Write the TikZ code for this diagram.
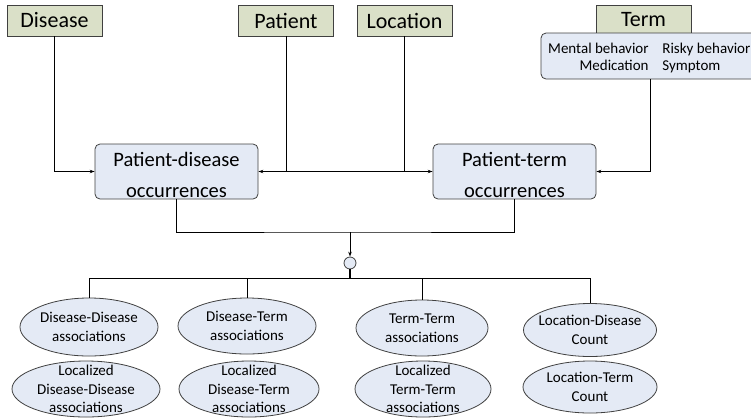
\documentclass[tikz,border=0pt]{standalone}
\usepackage{fontspec}
\setmainfont{Carlito}
\usetikzlibrary{shapes.geometric,arrows.meta}
\definecolor{entfill}{RGB}{218,224,200}
\definecolor{occfill}{RGB}{228,234,245}
\definecolor{edgegray}{RGB}{64,64,64}
\tikzset{
  entity/.style={draw=edgegray, fill=entfill, minimum width=95pt, minimum height=31pt, inner sep=0pt, font=\fontsize{22}{26}\selectfont},
  occbox/.style={draw=edgegray, fill=occfill, rounded corners=5pt, minimum width=163pt, minimum height=55pt, inner sep=0pt, align=center, text height=52pt, font=\fontsize{20.5}{31}\selectfont},
  assoc/.style={ellipse, draw=edgegray, fill=occfill, inner sep=0pt},
  assoctext/.style={align=center, inner sep=0pt, font=\fontsize{15}{18.5}\selectfont},
  termitem/.style={inner sep=0pt, font=\fontsize{15}{18}\selectfont},
}
\begin{document}
\begin{tikzpicture}[x=1pt, y=-1pt, line width=0.8pt, >={Stealth[length=5pt,width=3.5pt]}]
\useasboundingbox (0,0) rectangle (751,418);
% source tables
\node[entity] (dis) at (54.5,20.5){Disease};
\node[entity] (pat) at (286,20.5){Patient};
\node[entity] (loc) at (404.5,20.5){Location};
\node[entity, minimum height=29pt] (term) at (643.5,19.5){Term};
\node[draw=edgegray, fill=occfill, rounded corners=5pt, minimum width=218pt, minimum height=46pt] (termlist) at (650,56){};
\node[termitem, anchor=base east] (tmental) at (649,53){Mental behavior};
\node[termitem, anchor=base west] (trisky) at (662,53){Risky behavior};
\node[termitem, anchor=base east] (tmed) at (649,70.5){Medication};
\node[termitem, anchor=base west] (tsym) at (662,70.5){Symptom};
% occurrence tables
\node[occbox] (pd) at (176.5,171.5){Patient-disease\\occurrences};
\node[occbox] (pt) at (514.5,171.5){Patient-term\\occurrences};
\draw[->](dis) |- (pd);
\draw[<->](pd) -- (pt);
\draw[](pat) -- (pat |- pd);
\draw[](loc) -- (loc |- pt);
\draw[->](termlist) |- (pt);
% merge
\coordinate (merge) at (350,232);
\node[circle, draw=edgegray, fill=occfill, minimum size=12pt, inner sep=0pt] (op) at (350,263){};
\coordinate (split) at (350,278);
\draw[](pd) |- (merge) -| (pt);
\draw[->](merge) -- (op);
\draw[line width=1.3pt](op) -- (split);
% association outputs
\node[assoc, minimum width=138pt, minimum height=58pt] (dd) at (89,327){};
\node[assoctext] (ddt) at (dd){Disease-Disease\\associations};
\node[assoc, minimum width=148pt, minimum height=56pt] (ldd) at (86,389){};
\node[assoctext] (lddt) at (ldd){Localized\\Disease-Disease\\associations};
\node[assoc, minimum width=138pt, minimum height=56pt] (dt) at (247,326){};
\node[assoctext] (dtt) at (dt){Disease-Term\\associations};
\node[assoc, minimum width=140pt, minimum height=56pt] (ldt) at (249,389){};
\node[assoctext] (ldtt) at (ldt){Localized\\Disease-Term\\associations};
\node[assoc, minimum width=132pt, minimum height=56pt] (tt) at (422,328){};
\node[assoctext] (ttt) at (tt){Term-Term\\associations};
\node[assoc, minimum width=136pt, minimum height=56pt] (ltt) at (423,389){};
\node[assoctext] (lttt) at (ltt){Localized\\Term-Term\\associations};
\node[assoc, minimum width=133pt, minimum height=53pt] (ld) at (590,330){};
\node[assoctext] (ldt2) at (ld){Location-Disease\\Count};
\node[assoc, minimum width=134pt, minimum height=52pt] (lt) at (590,387){};
\node[assoctext] (ltt2) at (lt){Location-Term\\Count};
\draw[](split) -| (dd);
\draw[](split) -| (dt);
\draw[](split) -| (tt);
\draw[](split) -| (ld);
\end{tikzpicture}
\end{document}
